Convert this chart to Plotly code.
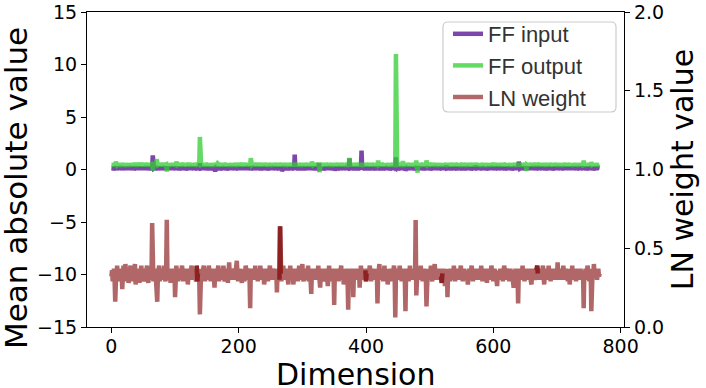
import plotly.graph_objects as go

# ---------------- data ----------------
ff_input = [
0.12,0.10,0.14,0.11,0.13,0.09,0.15,0.12,0.10,0.13,0.11,0.14,0.12,0.09,0.13,0.11,0.15,0.12,0.10,0.14,0.11,0.13,0.12,0.09,0.14,0.11,0.13,0.10,0.12,0.15,0.11,0.13,
0.11,0.13,0.10,0.14,0.12,0.09,0.13,0.11,0.15,0.12,0.10,0.14,0.11,0.13,0.12,0.09,0.14,0.11,0.13,0.10,0.12,0.15,0.11,0.13,0.12,0.10,0.14,0.11,0.13,0.09,0.15,0.12,
0.13,1.34,0.12,0.10,0.14,0.11,0.13,0.09,0.15,0.12,0.10,0.13,0.11,0.14,0.12,0.09,0.13,0.11,0.15,0.12,0.10,0.14,0.11,0.13,0.12,0.09,0.14,0.11,0.13,0.10,0.12,0.15,
0.12,0.10,0.14,0.11,0.13,0.09,0.15,0.12,0.10,0.13,0.11,0.14,0.12,0.09,0.13,0.11,0.15,0.12,0.10,0.14,0.11,0.13,0.12,0.09,0.14,0.11,0.13,0.10,0.12,0.15,0.11,0.13,
0.11,0.13,0.10,0.14,0.12,0.09,0.13,0.11,0.15,0.12,0.10,0.60,0.11,0.13,0.12,0.09,0.14,0.11,0.13,0.10,0.12,0.15,0.11,0.13,0.12,0.10,0.14,0.11,0.13,0.09,0.15,0.12,
0.12,0.10,0.14,-0.20,0.13,0.09,0.15,0.12,0.10,0.13,0.11,0.14,0.12,0.09,0.13,0.11,0.15,0.12,0.10,0.14,0.11,0.13,0.12,0.09,0.14,0.11,0.13,0.10,0.12,0.15,0.11,0.13,
0.11,0.13,0.10,0.14,0.12,0.09,0.13,0.11,0.15,0.12,0.10,0.14,0.11,0.13,0.12,0.09,0.14,0.11,0.13,0.10,0.12,0.15,0.11,0.13,0.12,0.10,0.14,0.11,0.13,0.09,0.15,0.12,
0.12,0.10,0.14,0.11,0.13,0.09,0.15,0.12,0.10,0.13,0.11,0.14,0.12,0.09,0.13,0.11,0.15,0.12,0.10,0.14,0.11,0.13,0.12,0.09,0.14,0.11,0.13,0.10,0.12,0.15,0.11,0.13,
0.11,0.13,0.10,0.14,0.12,0.09,0.13,0.11,0.15,0.12,0.10,0.14,-0.15,0.13,0.12,0.09,0.14,0.11,0.13,0.10,0.12,0.15,0.11,0.13,0.12,0.10,0.14,0.11,0.13,0.09,0.15,0.12,
1.41,0.10,0.14,0.11,0.13,0.09,0.15,0.12,0.10,0.13,0.11,0.14,0.12,0.09,0.13,0.11,0.15,0.12,0.10,0.14,0.11,0.13,0.12,0.09,0.14,0.11,0.13,0.10,0.12,0.15,0.11,0.13,
0.11,0.13,0.10,0.14,0.12,0.09,0.62,0.11,0.15,0.12,0.10,0.14,0.11,0.13,0.12,0.09,0.14,0.11,0.13,0.10,0.12,0.15,0.11,0.13,0.12,0.10,0.14,0.11,0.13,0.09,0.15,-0.10,
0.12,0.10,0.14,0.11,0.13,0.09,0.15,0.12,0.10,0.13,0.11,0.14,0.12,0.09,0.13,0.11,0.15,0.12,0.10,0.14,0.11,0.13,1.05,0.09,0.14,0.11,0.13,0.10,0.12,0.15,0.11,0.13,
0.11,0.13,0.10,0.14,0.12,0.09,0.13,0.11,0.15,1.80,0.10,0.14,0.11,0.13,0.12,0.09,0.14,0.11,0.13,0.10,0.12,0.15,0.11,0.13,0.12,0.10,0.14,0.11,0.13,0.09,0.15,0.12,
0.12,0.10,0.14,0.11,0.13,0.09,0.15,0.12,0.10,0.13,0.11,0.14,0.12,0.09,0.13,0.11,0.15,0.12,0.10,0.14,0.11,0.13,0.12,0.09,0.14,0.11,0.13,0.10,0.12,0.15,0.11,1.15,
0.11,0.13,0.10,0.14,0.12,0.09,0.13,0.11,0.15,0.12,0.10,0.14,0.11,0.13,-0.10,0.09,0.14,0.11,0.13,0.10,0.12,0.15,0.11,0.13,0.12,0.10,0.14,0.11,0.13,0.09,0.15,0.12,
0.12,0.10,0.14,0.11,0.13,0.09,0.15,0.12,0.10,0.13,0.11,0.14,0.12,0.09,0.13,0.11,0.15,0.12,0.10,0.14,0.11,0.13,0.12,0.09,0.14,0.11,0.13,0.10,0.12,0.15,0.11,0.13,
0.11,0.13,0.10,0.14,0.12,0.09,0.13,0.11,0.15,0.12,0.10,0.14,0.11,0.13,0.35,0.09,0.14,0.11,0.13,0.10,0.12,0.15,0.11,0.13,0.12,0.10,0.14,0.11,0.13,0.09,0.15,0.12,
0.12,0.10,0.14,0.11,0.13,0.09,0.15,0.12,0.10,0.13,0.11,0.14,0.12,0.09,0.13,0.11,0.15,0.12,0.10,0.14,0.11,0.13,0.12,0.09,0.14,0.11,0.13,0.10,0.12,0.35,0.11,0.13,
0.11,0.13,0.10,0.14,0.12,0.09,0.13,0.11,0.15,0.12,0.10,0.14,0.11,0.13,0.12,0.09,0.14,0.11,0.13,0.10,0.12,0.15,0.11,0.13,0.12,0.10,0.14,0.11,0.13,0.09,0.15,0.12,
0.12,0.10,0.14,0.11,0.13,0.09,0.15,0.12,0.10,0.13,0.11,0.14,0.12,0.09,0.13,0.11,0.15,0.12,0.10,0.14,0.11,0.13,0.12,0.09,0.14,0.11,0.13,0.10,0.12,0.15,0.11,0.13,
0.75,0.13,0.10,0.14,0.12,0.09,0.13,0.11,0.15,0.12,0.10,0.14,0.11,0.13,0.12,0.09,0.14,0.11,0.13,0.10,0.12,0.15,0.11,0.13,0.12,0.10,0.14,0.11,0.13,0.09,0.15,0.12,
0.12,0.10,0.14,0.11,0.13,0.09,0.15,0.12,0.10,0.13,0.11,0.14,0.12,0.09,0.13,0.11,0.15,0.12,0.10,0.14,0.11,0.13,0.12,0.09,0.14,0.11,0.13,0.10,0.12,0.15,0.11,0.13,
0.11,0.13,0.10,0.14,0.12,0.09,0.13,0.11,0.15,0.12,0.10,0.14,0.11,0.13,0.12,0.09,0.14,0.11,0.13,0.10,0.12,0.15,0.11,0.13,0.12,0.10,0.14,0.11,0.13,0.09,0.15,0.12,
0.12,0.10,0.14,0.11,0.13,0.09,0.15,0.12,0.10,0.13,0.11,0.14,0.12,0.09,0.13,0.11,0.15,0.12,0.10,0.14,0.11,0.13,0.12,0.09,0.14,0.11,0.13,0.10,0.12,0.15,0.11,0.13,
]

ff_output = [
0.45,0.42,0.48,0.44,0.46,0.43,0.47,0.74,0.45,0.41,0.46,0.44,0.48,0.43,0.45,0.47,0.42,0.46,0.44,0.49,0.43,0.45,0.47,0.42,0.46,0.44,0.48,0.45,0.43,0.47,0.44,0.46,
0.44,0.47,0.43,0.45,0.48,0.42,0.46,0.44,0.47,0.43,0.45,0.49,0.44,0.42,0.46,0.48,0.43,0.45,0.47,0.44,0.42,0.46,0.45,0.48,0.43,0.47,0.44,0.46,0.42,0.45,0.48,0.44,
0.45,-0.10,0.47,0.43,0.46,0.44,0.48,0.97,0.45,0.42,0.46,0.44,0.47,0.43,0.45,0.48,0.42,0.46,0.44,0.47,0.43,0.45,0.48,-0.20,0.46,0.44,0.42,0.47,0.45,0.43,0.46,0.48,
0.44,0.46,0.43,0.47,0.45,0.42,0.74,0.46,0.44,0.48,0.43,0.45,0.47,0.42,0.46,0.44,0.48,0.45,0.43,0.47,0.44,0.46,0.42,0.45,0.48,0.43,0.46,0.44,0.47,0.45,0.42,0.46,
0.45,0.43,0.47,0.44,0.46,0.42,0.48,0.45,0.43,0.47,0.44,3.10,0.46,0.43,0.45,0.48,0.42,0.46,0.44,0.47,0.43,0.45,0.48,0.44,0.42,0.46,0.45,0.47,0.43,0.46,0.44,0.48,
0.43,0.46,0.44,0.47,0.45,0.42,0.46,0.58,0.44,0.47,0.43,0.45,0.48,0.42,0.46,0.44,0.47,0.43,0.45,0.48,0.44,0.42,0.46,0.45,0.47,0.43,0.46,0.44,0.48,0.45,0.42,0.47,
0.44,0.46,0.43,0.48,0.45,0.42,0.47,0.44,0.46,0.43,0.45,0.48,0.42,0.46,0.44,0.47,0.43,0.45,0.48,0.44,0.42,0.46,0.45,0.47,0.43,0.46,0.44,1.07,0.45,0.42,0.47,0.44,
0.46,0.43,0.45,0.48,0.42,0.46,0.44,0.47,0.43,0.45,0.48,0.44,0.42,0.46,0.45,0.47,0.43,0.46,0.44,0.48,0.45,0.42,0.47,0.44,0.46,0.43,0.45,0.48,0.42,0.46,0.44,0.47,
0.43,0.45,0.48,0.44,0.42,0.46,0.45,0.47,0.43,0.46,0.44,0.48,0.45,0.42,0.47,0.44,0.46,0.43,0.45,0.48,0.42,0.46,0.44,0.47,0.43,0.45,0.48,0.44,0.42,0.46,0.45,0.47,
0.44,0.46,0.43,0.48,0.45,0.42,0.47,0.44,0.46,0.43,0.45,0.48,0.42,0.46,0.44,0.47,0.43,0.45,0.48,0.44,0.42,0.46,0.45,0.47,0.43,0.46,0.44,0.74,0.45,0.42,0.47,0.44,
0.46,0.43,0.45,0.48,0.42,0.46,0.44,-0.25,0.43,0.45,0.48,0.44,0.42,0.46,0.45,0.47,0.43,0.46,0.44,0.48,0.45,0.42,0.47,0.44,0.46,0.43,0.45,0.48,0.42,0.46,0.44,0.47,
0.43,0.45,0.48,0.44,0.42,0.46,0.45,0.47,0.43,0.46,0.44,0.48,0.45,0.42,0.47,0.44,0.46,0.43,0.45,0.48,0.42,0.46,1.10,0.47,0.43,0.45,0.48,0.44,0.42,0.46,0.45,0.47,
0.44,0.46,0.43,0.48,0.45,0.42,0.47,0.44,0.46,0.43,0.45,0.48,0.42,0.46,0.44,0.47,0.43,0.45,0.48,0.44,0.42,0.46,0.45,0.47,0.43,0.46,0.44,0.48,0.45,0.42,0.47,0.44,
0.46,0.43,0.45,0.85,0.42,0.46,0.44,0.47,0.43,0.45,0.48,0.44,0.42,0.46,0.45,0.47,0.43,0.46,0.44,0.48,0.45,0.42,0.47,0.44,0.46,0.43,0.45,0.48,0.42,0.46,0.44,11.0,
0.45,0.43,0.47,0.44,0.46,0.42,0.48,0.45,0.43,0.47,0.80,0.44,0.46,0.43,0.45,0.48,0.42,0.46,0.44,0.47,0.43,0.45,0.48,0.44,0.42,0.46,0.45,0.47,0.43,0.46,0.44,0.85,
0.45,-0.30,0.46,0.43,0.47,0.44,0.45,0.42,0.48,0.45,0.43,0.47,0.44,0.46,0.42,0.85,0.45,0.43,0.47,0.44,0.46,0.42,0.48,0.45,0.43,0.47,0.44,0.46,0.43,0.45,0.48,0.44,
0.42,0.46,0.45,0.47,0.43,0.46,0.44,0.48,0.45,0.42,0.47,0.44,0.46,0.43,0.45,0.48,0.42,0.46,0.44,0.47,0.43,0.45,0.48,0.44,0.42,0.46,0.45,0.47,0.43,0.46,0.44,0.48,
0.45,0.43,0.47,0.44,0.46,0.42,0.48,0.45,0.43,0.47,0.44,0.46,0.43,0.45,0.48,0.42,0.46,0.44,0.47,0.43,0.45,0.48,0.44,0.42,0.46,0.45,0.47,0.43,0.46,0.44,0.48,0.45,
0.43,0.46,0.44,0.47,0.45,0.42,0.46,0.44,0.48,0.43,0.45,0.47,0.42,0.46,0.44,0.48,0.45,0.43,0.47,0.44,0.46,0.42,0.45,0.48,0.43,0.46,0.44,0.47,0.45,0.42,0.46,0.44,
0.47,0.43,0.45,0.48,0.42,0.46,0.44,0.47,0.43,0.45,0.48,0.44,0.42,0.46,0.45,0.47,0.43,0.46,0.44,0.48,0.45,0.42,0.47,0.44,0.46,0.43,0.45,0.48,0.42,0.46,0.44,0.47,
0.44,0.40,0.46,0.43,0.47,0.44,0.45,0.42,0.48,0.45,0.43,0.47,-0.15,0.46,0.42,0.45,0.48,0.44,0.43,0.47,0.45,0.42,0.46,0.44,0.48,0.43,0.45,0.47,0.42,0.46,0.44,0.48,
0.45,0.43,0.47,0.44,0.46,0.42,0.48,0.45,0.43,0.47,0.44,0.46,0.43,0.45,0.48,0.42,0.46,0.44,0.47,0.43,0.45,0.48,0.44,0.42,0.46,0.45,0.47,0.43,0.46,0.44,0.48,0.45,
0.43,0.46,0.44,0.47,0.45,0.42,0.46,0.44,0.48,0.43,0.45,0.47,0.42,0.46,0.44,0.48,0.45,0.43,0.47,0.44,0.46,0.42,0.45,0.48,0.43,0.46,0.44,0.47,0.45,0.42,0.46,0.44,
0.46,0.43,0.45,0.48,0.42,0.46,0.85,0.44,0.47,0.43,0.45,0.48,0.44,0.42,0.46,0.45,0.47,0.43,0.70,0.46,0.44,0.48,0.45,0.42,0.47,0.44,0.46,0.43,0.45,0.48,0.44,0.46,
]

ln_weight = [
0.32,0.36,0.29,0.34,0.37,0.30,0.16,0.28,0.34,0.39,0.32,0.36,0.29,0.37,0.34,0.30,0.36,0.24,0.32,0.39,0.36,0.29,0.40,0.34,0.30,0.37,0.32,0.28,0.36,0.34,0.39,0.30,
0.34,0.37,0.29,0.36,0.32,0.40,0.27,0.34,0.37,0.30,0.36,0.32,0.28,0.37,0.34,0.39,0.30,0.36,0.32,0.29,0.37,0.34,0.30,0.36,0.39,0.32,0.28,0.34,0.37,0.30,0.36,0.32,
0.66,0.34,0.29,0.36,0.32,0.37,0.30,0.34,0.16,0.32,0.36,0.39,0.29,0.34,0.37,0.32,0.36,0.30,0.34,0.39,0.32,0.29,0.36,0.68,0.34,0.37,0.30,0.36,0.32,0.28,0.34,0.37,
0.32,0.36,0.30,0.37,0.19,0.34,0.39,0.32,0.36,0.29,0.34,0.37,0.30,0.36,0.32,0.39,0.34,0.29,0.36,0.32,0.37,0.30,0.34,0.36,0.27,0.32,0.37,0.34,0.30,0.36,0.39,0.32,
0.34,0.30,0.36,0.37,0.32,0.29,0.39,0.29,0.34,0.36,0.32,0.08,0.34,0.37,0.30,0.36,0.32,0.39,0.34,0.29,0.36,0.32,0.37,0.30,0.34,0.39,0.32,0.36,0.29,0.34,0.37,0.32,
0.36,0.32,0.25,0.34,0.37,0.30,0.36,0.32,0.39,0.29,0.34,0.37,0.32,0.36,0.30,0.34,0.39,0.32,0.29,0.36,0.34,0.37,0.30,0.28,0.34,0.41,0.32,0.36,0.30,0.37,0.34,0.32,
0.34,0.37,0.30,0.36,0.32,0.42,0.34,0.29,0.37,0.32,0.36,0.30,0.34,0.28,0.37,0.32,0.36,0.29,0.34,0.39,0.32,0.36,0.30,0.37,0.34,0.32,0.12,0.36,0.32,0.37,0.30,0.34,
0.36,0.32,0.39,0.30,0.34,0.37,0.29,0.36,0.32,0.34,0.39,0.30,0.36,0.32,0.37,0.34,0.27,0.32,0.36,0.30,0.37,0.34,0.29,0.36,0.32,0.39,0.34,0.30,0.36,0.32,0.37,0.34,
0.32,0.36,0.30,0.37,0.22,0.34,0.32,0.37,0.30,0.64,0.34,0.29,0.36,0.32,0.39,0.34,0.30,0.36,0.32,0.37,0.29,0.34,0.27,0.36,0.32,0.39,0.30,0.34,0.37,0.32,0.27,0.36,
0.34,0.30,0.37,0.32,0.36,0.29,0.34,0.39,0.32,0.36,0.30,0.34,0.40,0.32,0.29,0.36,0.34,0.37,0.30,0.36,0.32,0.39,0.29,0.34,0.37,0.32,0.21,0.36,0.30,0.34,0.37,0.32,
0.36,0.32,0.37,0.30,0.34,0.39,0.32,0.36,0.25,0.34,0.37,0.30,0.36,0.32,0.29,0.37,0.34,0.30,0.36,0.32,0.26,0.34,0.39,0.32,0.36,0.29,0.34,0.37,0.32,0.36,0.14,0.34,
0.32,0.37,0.30,0.36,0.34,0.29,0.37,0.32,0.36,0.39,0.30,0.34,0.37,0.27,0.32,0.36,0.30,0.34,0.37,0.32,0.11,0.36,0.30,0.37,0.34,0.32,0.29,0.36,0.19,0.34,0.37,0.32,
0.36,0.30,0.34,0.37,0.32,0.36,0.25,0.34,0.39,0.32,0.36,0.30,0.37,0.34,0.32,0.36,0.29,0.34,0.37,0.30,0.36,0.32,0.39,0.34,0.29,0.36,0.32,0.37,0.30,0.34,0.36,0.32,
0.34,0.37,0.15,0.32,0.36,0.40,0.30,0.34,0.37,0.32,0.36,0.29,0.34,0.39,0.32,0.36,0.30,0.37,0.27,0.34,0.32,0.36,0.29,0.37,0.34,0.30,0.36,0.32,0.39,0.34,0.06,0.32,
0.36,0.32,0.37,0.30,0.34,0.39,0.32,0.36,0.29,0.34,0.37,0.32,0.36,0.30,0.10,0.34,0.37,0.32,0.36,0.29,0.34,0.39,0.32,0.36,0.30,0.37,0.34,0.32,0.36,0.30,0.68,0.20,
0.34,0.37,0.32,0.36,0.30,0.34,0.39,0.32,0.36,0.29,0.34,0.37,0.30,0.36,0.32,0.13,0.34,0.37,0.32,0.36,0.30,0.34,0.39,0.32,0.29,0.36,0.34,0.37,0.40,0.32,0.36,0.30,
0.36,0.32,0.37,0.34,0.30,0.36,0.32,0.28,0.34,0.37,0.32,0.36,0.26,0.34,0.30,0.37,0.19,0.34,0.32,0.36,0.29,0.37,0.34,0.30,0.36,0.32,0.39,0.34,0.29,0.36,0.32,0.37,
0.34,0.30,0.37,0.32,0.36,0.39,0.32,0.34,0.29,0.36,0.37,0.32,0.34,0.30,0.36,0.32,0.27,0.34,0.37,0.30,0.36,0.32,0.39,0.34,0.29,0.36,0.32,0.37,0.34,0.30,0.36,0.32,
0.37,0.34,0.30,0.36,0.32,0.39,0.34,0.29,0.36,0.32,0.37,0.34,0.30,0.36,0.28,0.34,0.37,0.32,0.36,0.30,0.34,0.39,0.32,0.36,0.29,0.34,0.37,0.32,0.36,0.30,0.26,0.34,
0.32,0.36,0.30,0.37,0.34,0.32,0.36,0.29,0.34,0.39,0.32,0.36,0.30,0.37,0.34,0.32,0.36,0.29,0.34,0.37,0.32,0.36,0.30,0.34,0.25,0.36,0.32,0.37,0.30,0.34,0.37,0.15,
0.34,0.37,0.32,0.36,0.30,0.34,0.39,0.32,0.36,0.29,0.34,0.37,0.32,0.36,0.30,0.34,0.37,0.32,0.36,0.29,0.27,0.34,0.37,0.32,0.36,0.30,0.34,0.32,0.36,0.39,0.34,0.30,
0.36,0.32,0.37,0.34,0.30,0.36,0.39,0.32,0.27,0.34,0.37,0.32,0.36,0.30,0.34,0.39,0.32,0.36,0.29,0.34,0.37,0.32,0.36,0.30,0.34,0.37,0.32,0.36,0.30,0.41,0.34,0.37,
0.32,0.36,0.30,0.37,0.34,0.32,0.39,0.36,0.30,0.34,0.37,0.32,0.36,0.29,0.34,0.37,0.27,0.34,0.36,0.32,0.39,0.30,0.34,0.37,0.32,0.36,0.29,0.34,0.37,0.32,0.36,0.30,
0.34,0.37,0.32,0.36,0.30,0.34,0.12,0.36,0.32,0.37,0.30,0.34,0.39,0.32,0.36,0.29,0.34,0.37,0.10,0.34,0.36,0.32,0.40,0.34,0.37,0.32,0.36,0.30,0.34,0.37,0.32,0.34,
]

# dimensions where the LN weight curve is drawn darker in the reference
ln_dark_groups = [[134, 135, 136], [264, 265, 266], [399, 400, 401], [518, 519, 520], [668, 669, 670]]

x_ticks = [0, 200, 400, 600, 800]
series_names = ["FF input", "FF output", "LN weight"]

# ---------------- figure ----------------
dark_x, dark_y = [], []
for grp in ln_dark_groups:
    for d in grp:
        dark_x.append(d)
        dark_y.append(ln_weight[d])
    dark_x.append(None)
    dark_y.append(None)

fig = go.Figure()
fig.add_trace(go.Scatter(
    x=list(range(len(ff_input))), y=ff_input, name=series_names[0], mode="lines",
    line=dict(color="rgb(92,24,150)", width=4.5), opacity=0.8, yaxis="y"))
fig.add_trace(go.Scatter(
    x=list(range(len(ff_output))), y=ff_output, name=series_names[1], mode="lines",
    line=dict(color="rgb(50,205,50)", width=4.5), opacity=0.75, yaxis="y"))
fig.add_trace(go.Scatter(
    x=list(range(len(ln_weight))), y=ln_weight, name=series_names[2], mode="lines",
    line=dict(color="rgb(145,40,40)", width=4.5), opacity=0.7, yaxis="y2"))
fig.add_trace(go.Scatter(
    x=dark_x, y=dark_y, mode="lines", showlegend=False, hoverinfo="skip",
    line=dict(color="rgb(135,20,20)", width=4.5), opacity=0.85, yaxis="y2"))

tick_font = dict(family="DejaVu Sans", size=19, color="black")
title_font = dict(family="DejaVu Sans", size=30, color="black")

# plot-area geometry (px) used to place the legend frame and axis titles
L, R, T, B = 87, 624, 12, 327
W, H = R - L, B - T
def px(xp):
    return (xp - L) / W
def py(yp):
    return (B - yp) / H

# rounded legend frame (matplotlib-style fancybox)
bx0, bx1, by0, by1, rad = 443, 616, 22, 112, 5
frame_path = (
    f"M {px(bx0 + rad)},{py(by0)} L {px(bx1 - rad)},{py(by0)} "
    f"Q {px(bx1)},{py(by0)} {px(bx1)},{py(by0 + rad)} "
    f"L {px(bx1)},{py(by1 - rad)} Q {px(bx1)},{py(by1)} {px(bx1 - rad)},{py(by1)} "
    f"L {px(bx0 + rad)},{py(by1)} Q {px(bx0)},{py(by1)} {px(bx0)},{py(by1 - rad)} "
    f"L {px(bx0)},{py(by0 + rad)} Q {px(bx0)},{py(by0)} {px(bx0 + rad)},{py(by0)} Z"
)

fig.update_layout(
    width=706, height=388,
    margin=dict(l=L, r=706 - R, t=T, b=388 - B, autoexpand=False),
    paper_bgcolor="white", plot_bgcolor="white",
    template="none",
    showlegend=True,
    legend=dict(
        x=px(448), y=py(13), xanchor="left", yanchor="top",
        bgcolor="rgba(0,0,0,0)", borderwidth=0,
        font=dict(family="Liberation Sans, Arial, sans-serif", size=22, color="#333333"),
        itemwidth=30, tracegroupgap=0,
    ),
    shapes=[dict(
        type="path", path=frame_path, xref="paper", yref="paper", layer="above",
        fillcolor="rgba(255,255,255,0.8)", line=dict(color="#cccccc", width=1.2),
    )],
    xaxis=dict(
        range=[-38.35, 805.35], tickvals=x_ticks, ticktext=[str(v) for v in x_ticks],
        showgrid=False, zeroline=False, showline=True, linecolor="black", linewidth=1.2,
        mirror=True, ticks="outside", ticklen=5, tickwidth=1.2, tickcolor="black",
        tickfont=tick_font, automargin=False, ticklabelstandoff=-3,
    ),
    yaxis=dict(
        range=[-15, 15], tickmode="linear", tick0=-15, dtick=5,
        showgrid=False, zeroline=False, showline=True, linecolor="black", linewidth=1.2,
        ticks="outside", ticklen=5, tickwidth=1.2, tickcolor="black",
        tickfont=tick_font, automargin=False,
    ),
    yaxis2=dict(
        range=[0, 2], tickmode="linear", tick0=0, dtick=0.5, tickformat=".1f",
        overlaying="y", side="right", anchor="x",
        showgrid=False, zeroline=False, showline=True, linecolor="black", linewidth=1.2,
        ticks="outside", ticklen=5, tickwidth=1.2, tickcolor="black",
        tickfont=tick_font, automargin=False,
        title=dict(text="LN weight value", font=title_font, standoff=8),
    ),
    annotations=[
        dict(
            text="Mean absolute value", textangle=-90, showarrow=False,
            xref="paper", yref="paper", x=px(16), y=py(188),
            xanchor="center", yanchor="middle", height=26,
            font=dict(family="DejaVu Sans", size=31, color="black"),
        ),
        dict(
            text="Dimension", showarrow=False,
            xref="paper", yref="paper", x=px(355), y=py(374),
            xanchor="center", yanchor="middle", height=26, font=title_font,
        ),
    ],
)

fig.write_html(
    "out.html",
    config={"displayModeBar": False},
    post_script="document.body.style.margin='0';document.body.style.padding='0';",
)
